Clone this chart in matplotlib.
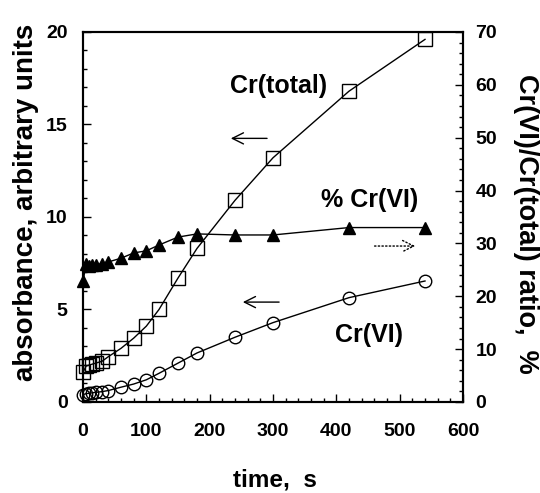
import matplotlib
matplotlib.use("Agg")
import matplotlib.pyplot as plt
from matplotlib.ticker import MultipleLocator

plt.rcParams['font.family'] = ['Liberation Sans', 'DejaVu Sans']
plt.rcParams['font.weight'] = 'bold'

# data
time_s = [0, 5, 10, 15, 20, 30, 40, 60, 80, 100, 120, 150, 180, 240, 300, 420, 540]
cr_total = [1.6, 1.95, 2.0, 2.05, 2.1, 2.2, 2.45, 2.9, 3.45, 4.1, 5.0, 6.7, 8.3, 10.9, 13.2, 16.8, 19.6]
cr_vi = [0.4, 0.45, 0.47, 0.5, 0.52, 0.56, 0.62, 0.8, 0.97, 1.2, 1.55, 2.1, 2.65, 3.5, 4.29, 5.64, 6.54]
pct_cr_vi = [22.8, 26.2, 25.8, 25.9, 25.9, 26.2, 26.5, 27.2, 28.2, 28.6, 29.7, 31.2, 31.8, 31.6, 31.6, 33.0, 33.0]

fig = plt.figure(figsize=(5.4, 4.93), dpi=100)
ax = fig.add_axes([0.1537, 0.1846, 0.7037, 0.7505])
ax2 = ax.twinx()

ax.plot(time_s, cr_total, color='black', lw=1, marker='s', ms=9.5,
        mfc='none', mec='black', mew=1, clip_on=False, zorder=3)
ax.plot(time_s, cr_vi, color='black', lw=1, marker='o', ms=9,
        mfc='none', mec='black', mew=1, clip_on=False, zorder=3)
ax2.plot(time_s, pct_cr_vi, color='black', lw=1, marker='^', ms=8.5,
         mfc='black', mec='black', clip_on=False, zorder=3)

ax.set_xlim(0, 600)
ax.set_ylim(0, 20)
ax2.set_ylim(0, 70)

ax.xaxis.set_major_locator(MultipleLocator(100))
ax.xaxis.set_minor_locator(MultipleLocator(20))
ax.yaxis.set_major_locator(MultipleLocator(5))
ax.yaxis.set_minor_locator(MultipleLocator(1))
ax2.yaxis.set_major_locator(MultipleLocator(10))
ax2.yaxis.set_minor_locator(MultipleLocator(2))

for a in (ax, ax2):
    a.tick_params(which='major', direction='in', length=6, width=1, labelsize=14)
    a.tick_params(which='minor', direction='in', length=3, width=1)
    for s in a.spines.values():
        s.set_linewidth(1.5)
ax.tick_params(axis='x', pad=15)
ax.tick_params(axis='y', pad=11)
ax2.tick_params(axis='y', pad=9)

ax.set_xlabel('time,  s', fontsize=17.5, fontweight='bold')
ax.set_ylabel('absorbance, arbitrary units', fontsize=20, fontweight='bold')
ax2.set_ylabel('Cr(VI)/Cr(total) ratio,  %', fontsize=19.5, fontweight='bold', rotation=-90)
for lab in (ax.xaxis.label, ax.yaxis.label, ax2.yaxis.label):
    lab.set_va('center')
    lab.set_ha('center')
ax.xaxis.set_label_coords(0.505, -0.21)
ax.yaxis.set_label_coords(-0.15, 0.54)
ax2.yaxis.set_label_coords(1.165, 0.481)

ax.text(309, 17.1, 'Cr(total)', fontsize=18, fontweight='bold', ha='center', va='center')
ax.text(453, 10.9, '% Cr(VI)', fontsize=18, fontweight='bold', ha='center', va='center')
ax.text(452, 3.62, 'Cr(VI)', fontsize=18, fontweight='bold', ha='center', va='center')

arrow = dict(arrowstyle='->', color='black', lw=1, mutation_scale=20)
ax.annotate('', xy=(229, 14.25), xytext=(295, 14.25), arrowprops=arrow)
ax.annotate('', xy=(248, 5.4), xytext=(314, 5.4), arrowprops=arrow)
ax.annotate('', xy=(529, 8.43), xytext=(456, 8.43),
            arrowprops=dict(arrowstyle='->', color='black', lw=1, ls=':', mutation_scale=20))

fig.savefig('out.png', dpi=100)
